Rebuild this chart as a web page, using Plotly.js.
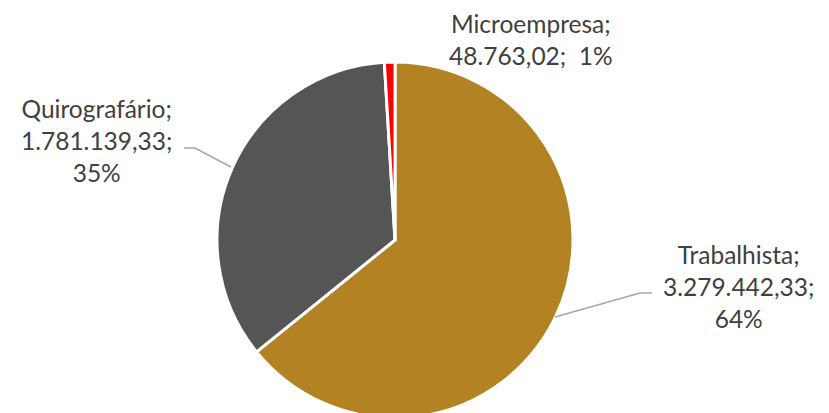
<!DOCTYPE html>
<html>
<head>
<meta charset="utf-8">
<script src="https://cdn.plot.ly/plotly-3.0.1.min.js"></script>
<style>
html,body{margin:0;padding:0;overflow:hidden;background:#fff;}
#chart{width:829px;height:430px;}
</style>
</head>
<body>
<div id="chart"></div>
<script>
const categories = ["Trabalhista", "Quirografário", "Microempresa"];
const values = [3279442.33, 1781139.33, 48763.02];
const colors = ["#B38323", "#555555", "#FF0000"];

const W = 829, H = 430;
const px = x => x / W;
const py = y => 1 - y / H;

function fmtBR(v) {
  const parts = v.toFixed(2).split(".");
  const intPart = parts[0].replace(/\B(?=(\d{3})+(?!\d))/g, ".");
  return intPart + "," + parts[1];
}
const total = values.reduce((a, b) => a + b, 0);
const pct = values.map(v => Math.round(v / total * 100) + "%");

const labelTexts = [
  categories[0] + ";<br>" + fmtBR(values[0]) + ";<br>" + pct[0],
  categories[1] + ";<br>" + fmtBR(values[1]) + ";<br>" + pct[1],
  categories[2] + ";<br>" + fmtBR(values[2]) + ";&nbsp; " + pct[2]
];
const labelPos = [[738, 286], [96, 140], [531, 40]];

const cx = 395, cy = 240, r = 178;

const trace = {
  type: "pie",
  labels: categories,
  values: values,
  sort: false,
  direction: "clockwise",
  rotation: 0,
  marker: {colors: colors, line: {color: "#FFFFFF", width: 3}},
  textinfo: "none",
  hoverinfo: "label+value+percent",
  domain: {x: [px(cx - r), px(cx + r)], y: [py(cy + r), py(cy - r)]}
};

const font = {family: "Lato, 'Open Sans', sans-serif", size: 24.5, color: "#404040"};

const layout = {
  width: W, height: H,
  margin: {l: 0, r: 0, t: 0, b: 0},
  showlegend: false,
  paper_bgcolor: "#FFFFFF",
  annotations: labelTexts.map((t, i) => ({
    text: t, x: px(labelPos[i][0]), y: py(labelPos[i][1]),
    xref: "paper", yref: "paper", xanchor: "center", yanchor: "middle",
    showarrow: false, align: "center", font: font
  })),
  shapes: [
    {type: "path", xref: "paper", yref: "paper",
     path: `M ${px(184)} ${py(148)} L ${px(195)} ${py(148)} L ${px(231)} ${py(167)}`,
     line: {color: "#A6A6A6", width: 1.5}},
    {type: "path", xref: "paper", yref: "paper",
     path: `M ${px(555)} ${py(317)} L ${px(640)} ${py(293)} L ${px(652)} ${py(293)}`,
     line: {color: "#A6A6A6", width: 1.5}}
  ]
};

Plotly.newPlot("chart", [trace], layout, {displayModeBar: false, staticPlot: true});
</script>
</body>
</html>
